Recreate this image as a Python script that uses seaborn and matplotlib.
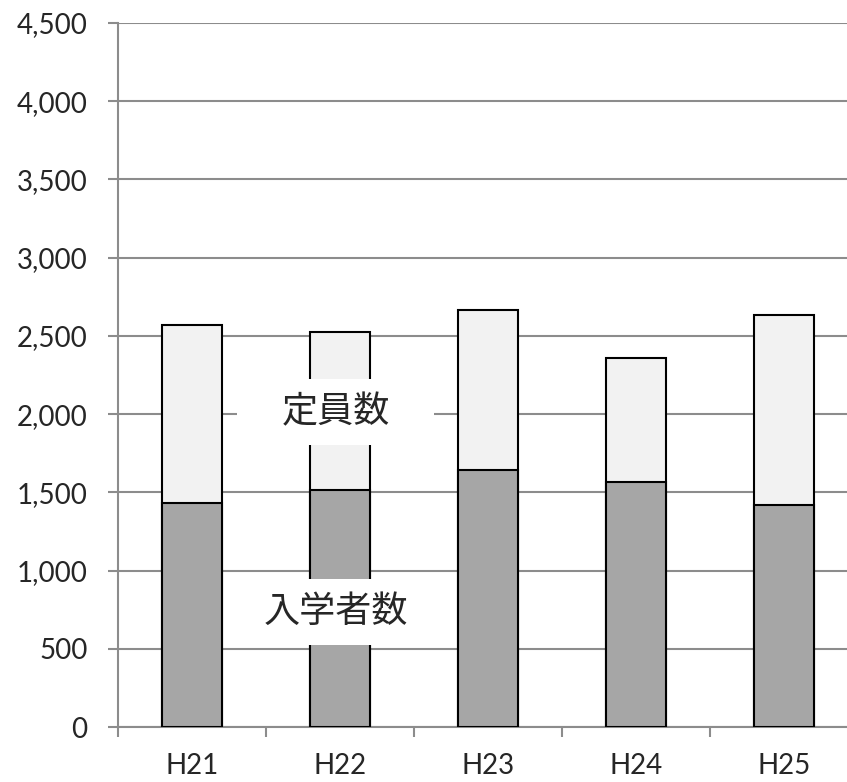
import matplotlib
matplotlib.use("Agg")
import matplotlib.pyplot as plt
from matplotlib.patches import Rectangle
from matplotlib.ticker import FuncFormatter, FixedLocator
import seaborn as sns
import pandas as pd

# 年度ごとの定員数と入学者数
years = ["H21", "H22", "H23", "H24", "H25"]
capacity = [2572, 2524, 2664, 2358, 2634]
enrolled = [1432, 1515, 1641, 1564, 1417]

df = pd.DataFrame({"year": years, "capacity": capacity, "enrolled": enrolled})

sns.set_style("white")
plt.rcParams["font.family"] = ["Lato", "Noto Sans CJK JP", "DejaVu Sans"]

W, H = 847, 782
fig = plt.figure(figsize=(W / 100, H / 100), dpi=100)
ax = fig.add_axes([118 / W, (H - 727) / H, 740 / W, 704 / H])

# 定員数（全体）を淡色、入学者数を濃色で重ねる
sns.barplot(data=df, x="year", y="capacity", color="#f2f2f2", saturation=1,
            width=0.4, edgecolor="black", linewidth=1.5, ax=ax, zorder=2)
sns.barplot(data=df, x="year", y="enrolled", color="#a6a6a6", saturation=1,
            width=0.4, edgecolor="black", linewidth=1.5, ax=ax, zorder=3)

ax.set_xlim(-0.5, 4.5)
ax.set_ylim(0, 4500)
ax.set_yticks(range(0, 4501, 500))
ax.yaxis.set_major_formatter(FuncFormatter(lambda v, p: f"{int(v):,}"))
ax.grid(axis="y", color="#8c8c8c", linewidth=1.5)
ax.set_axisbelow(True)

for side in ["top", "right"]:
    ax.spines[side].set_visible(False)
for side in ["left", "bottom"]:
    ax.spines[side].set_color("#8c8c8c")
    ax.spines[side].set_linewidth(1.5)

ax.tick_params(axis="y", length=7, width=1.5, color="#8c8c8c",
               labelsize=20, pad=15, left=True)
ax.tick_params(axis="x", which="major", length=0, labelsize=20, pad=19)
ax.xaxis.set_minor_locator(FixedLocator([i - 0.5 for i in range(len(years) + 1)]))
ax.tick_params(axis="x", which="minor", length=7, width=1.5, color="#8c8c8c",
               bottom=True)
ax.set_xlabel("")
ax.set_ylabel("")

# 系列名のラベル（白背景付き）
labels = [("定員数", 0.97, 2013), ("入学者数", 0.97, 735)]
box_w, box_h = 197 / 148, 66 / (704 / 4500)
for text, x, y in labels:
    ax.add_patch(Rectangle((x - box_w / 2, y - box_h / 2), box_w, box_h,
                           facecolor="white", edgecolor="none", zorder=5))
    ax.text(x, y, text, ha="center", va="center", fontsize=26,
            family=["Noto Sans CJK JP", "DejaVu Sans"], zorder=6)

fig.savefig("out.png", dpi=100)
